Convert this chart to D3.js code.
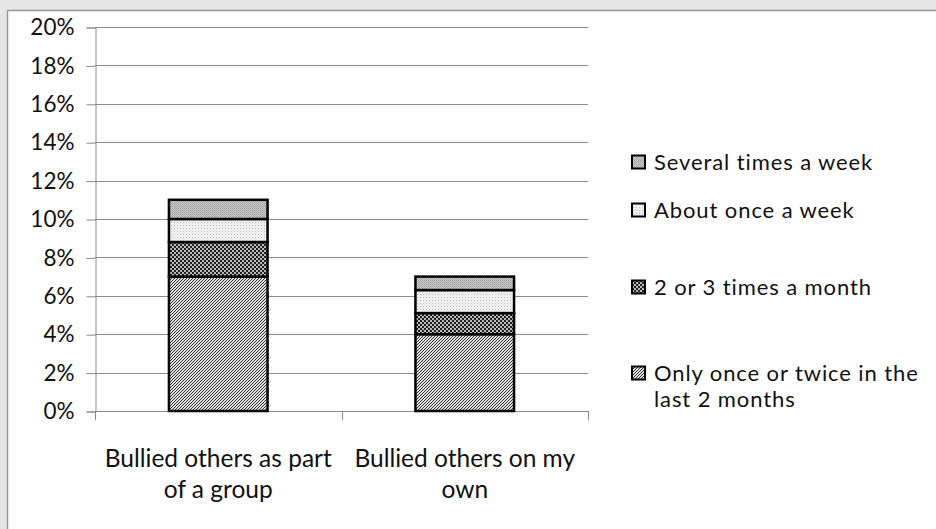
<!DOCTYPE html>
<html><head><meta charset="utf-8">
<script src="https://cdn.jsdelivr.net/npm/d3@7"></script>
<style>body{margin:0;background:#fff}svg{display:block}text{font-family:Lato,"Open Sans",sans-serif;fill:#111}</style>
</head><body><svg id="c" width="936" height="529"></svg>
<script>
const categories = [["Bullied others as part","of a group"],["Bullied others on my","own"]];
const seriesNames = ["Only once or twice in the last 2 months","2 or 3 times a month","About once a week","Several times a week"];
const legendLines = [["Several times a week"],["About once a week"],["2 or 3 times a month"],["Only once or twice in the","last 2 months"]];
const onceTwice = [7.0, 4.0];
const twoThree = [1.8, 1.1];
const onceWeek = [1.2, 1.2];
const severalWeek = [1.0, 0.7];
const yTicks = [0,2,4,6,8,10,12,14,16,18,20];

const svg = d3.select("#c");
svg.append("rect").attr("width",936).attr("height",529).attr("fill","#e6e6e6");
svg.append("rect").attr("x",7.5).attr("y",10.5).attr("width",940).attr("height",540).attr("fill","#fff").attr("stroke","#999").attr("stroke-width",1.5);

const defs = svg.append("defs");
let p = defs.append("pattern").attr("id","pDiag").attr("patternUnits","userSpaceOnUse").attr("width",3).attr("height",3);
p.append("rect").attr("width",3).attr("height",3).attr("fill","#e0e0e0");
p.append("path").attr("d","M0,3L3,0M-1,1L1,-1M2,4L4,2").attr("stroke","#333").attr("stroke-width",1);
p = defs.append("pattern").attr("id","pCheck").attr("patternUnits","userSpaceOnUse").attr("width",4).attr("height",4);
p.append("rect").attr("width",4).attr("height",4).attr("fill","#b8b8b8");
p.append("rect").attr("width",2).attr("height",2).attr("fill","#222");
p.append("rect").attr("x",2).attr("y",2).attr("width",2).attr("height",2).attr("fill","#222");
p = defs.append("pattern").attr("id","pLight").attr("patternUnits","userSpaceOnUse").attr("width",3).attr("height",3);
p.append("rect").attr("width",3).attr("height",3).attr("fill","#eeeeee");
p.append("rect").attr("width",1).attr("height",1).attr("fill","#c4c4c4");
p = defs.append("pattern").attr("id","pMed").attr("patternUnits","userSpaceOnUse").attr("width",2).attr("height",2);
p.append("rect").attr("width",2).attr("height",2).attr("fill","#c6c6c6");
p.append("rect").attr("width",1).attr("height",1).attr("fill","#a4a4a4");
p.append("rect").attr("x",1).attr("y",1).attr("width",1).attr("height",1).attr("fill","#b0b0b0");

const fills = ["url(#pDiag)","url(#pCheck)","url(#pLight)","url(#pMed)"];

const x = d3.scaleBand().domain([0,1]).range([95,588]).paddingInner(0.6).paddingOuter(0.3);
const y = d3.scaleLinear().domain([0,20]).range([411,27]);

svg.append("g").selectAll("line").data(yTicks.slice(1)).join("line")
  .attr("x1",95).attr("x2",588).attr("y1",d=>Math.round(y(d))+0.5).attr("y2",d=>Math.round(y(d))+0.5)
  .attr("stroke","#8c8c8c").attr("stroke-width",1);

const yAxis = d3.axisLeft(y).tickValues(yTicks).tickFormat(d=>d+"%").tickSize(9).tickPadding(12);
const gy = svg.append("g").attr("transform","translate(95.5,0.5)").call(yAxis);
gy.select(".domain").attr("stroke","#8c8c8c");
gy.selectAll(".tick line").attr("stroke","#8c8c8c");
gy.selectAll("text").attr("font-size",22.5).attr("font-family","Lato").attr("fill","#111");

svg.append("line").attr("x1",95).attr("x2",588).attr("y1",411.5).attr("y2",411.5).attr("stroke","#8c8c8c");
svg.append("g").selectAll("line").data([95,341.5,588]).join("line")
  .attr("x1",d=>Math.round(d)+0.5).attr("x2",d=>Math.round(d)+0.5).attr("y1",411).attr("y2",420).attr("stroke","#8c8c8c");

const rows = categories.map((c,i)=>({i, onceTwice:onceTwice[i], twoThree:twoThree[i], onceWeek:onceWeek[i], severalWeek:severalWeek[i]}));
const keys = ["onceTwice","twoThree","onceWeek","severalWeek"];
const stack = d3.stack().keys(keys)(rows);
svg.append("g").selectAll("g").data(stack).join("g").attr("fill",(d,k)=>fills[k])
  .selectAll("rect").data(d=>d).join("rect")
  .attr("x",d=>x(d.data.i)).attr("width",x.bandwidth())
  .attr("y",d=>y(d[1])).attr("height",d=>y(d[0])-y(d[1]))
  .attr("stroke","#000").attr("stroke-width",2.5);

categories.forEach((lines,i)=>{
  const cx = x(i)+x.bandwidth()/2;
  const t = svg.append("text").attr("text-anchor","middle").attr("font-size",24.5)
    .attr("x",cx).attr("y",467);
  lines.forEach((l,j)=>t.append("tspan").attr("x",cx).attr("dy",j?31:0).text(l));
});

const legY = [162,210,287,373];
const lg = svg.append("g");
legendLines.forEach((lines,k)=>{
  const fi = fills[3-k];
  lg.append("rect").attr("x",632).attr("y",legY[k]-6.5).attr("width",13).attr("height",13).attr("fill",fi).attr("stroke","#000").attr("stroke-width",2);
  const t = lg.append("text").attr("font-size",22).attr("letter-spacing",0.9).attr("x",654).attr("y",legY[k]+7.5);
  lines.forEach((l,j)=>t.append("tspan").attr("x",654).attr("dy",j?26.5:0).text(l));
});
</script></body></html>
